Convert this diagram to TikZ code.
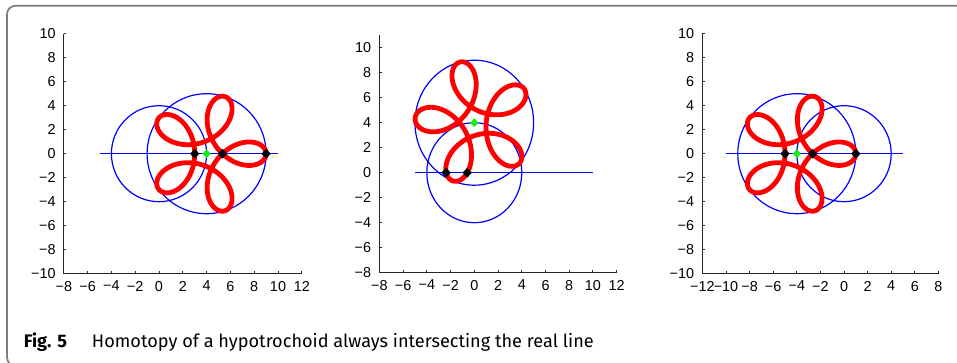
\documentclass[tikz,border=0pt]{standalone}
\usepackage{fontspec}
\setmainfont{Liberation Sans}
\newfontfamily\capfont{Fira Sans}
\usepackage{tikz}
\usetikzlibrary{shapes.geometric}

\definecolor{framegray}{RGB}{125,125,125}
\definecolor{limec}{RGB}{20,235,20}

% label with a true minus sign
\newcommand{\ticknum}[1]{\ifnum#1<0 −\number-#1\else#1\fi}
% hypotrochoid 3e^{it}+2e^{-4it}, centred at (#1,#2), turned by #3
\newcommand{\trochoid}[3]{%
  \draw[hypo] plot[domain=0:360, samples=361, variable=\t]
    ({#1+3*cos(\t+#3)+2*cos(#3-4*\t)}, {#2+3*sin(\t+#3)+2*sin(#3-4*\t)}) -- cycle;}

\begin{document}
\begin{tikzpicture}[
  x=0.75pt, y=-0.75pt,
  frame/.style={draw=framegray, line width=1.3pt, rounded corners=6.5pt},
  axis/.style={draw=black!85, line width=0.75pt},
  ring/.style={draw=blue, line width=0.9pt},
  hypo/.style={draw=red, line width=3.6pt, line join=round},
  root/.style={diamond, fill=black, inner sep=0pt, minimum width=7.2pt, minimum height=7.6pt},
  centre/.style={diamond, fill=limec, inner sep=0pt, minimum width=6.2pt, minimum height=6.8pt},
  ylab/.style={anchor=east, inner sep=0pt, xshift=-6pt, font=\fontsize{10.8}{12}\selectfont},
  xlab/.style={anchor=north, inner sep=0pt, yshift=-5.3pt, font=\fontsize{10.8}{12}\selectfont}
]
\useasboundingbox (0,0) rectangle (957,363);

\draw[frame] (962,5.7) -- (7,5.7) -- (7,366) -- (40,366);

% first homotopy step
\begin{scope}[shift={(159,153.7)}, x=8.925pt, y=9pt]
  \draw[axis] (-8,10) -- (-8,-10) -- (12,-10);
  \foreach \v [count=\i] in {-10,-8,...,10} {
    \draw[axis] (-8,\v) -- ++(0.2,0);
    \node[ylab] (ya\i) at (-8,\v) {\ticknum{\v}};
  }
  \foreach \v [count=\i] in {-8,-6,...,12} {
    \draw[axis] (\v,-10) -- ++(0,0.2);
    \node[xlab] (xa\i) at (\v,-10) {\ticknum{\v}};
  }
  \draw[ring] (0,0) circle [radius=4];
  \draw[ring] (4,0) circle [radius=5];
  \draw[ring] (-5,0) -- (10,0);
  \trochoid{4}{0}{0}
  \node[root] (ra1) at (3,0) {};
  \node[root] (ra2) at (5.33,0) {};
  \node[root] (ra3) at (9,0) {};
  \node[centre] (ca) at (4,0) {};
\end{scope}

% second homotopy step
\begin{scope}[shift={(474.3,172.7)}, x=8.9pt, y=9.375pt]
  \draw[axis] (-8,11) -- (-8,-8) -- (12,-8);
  \foreach \v [count=\i] in {-8,-6,...,10} {
    \draw[axis] (-8,\v) -- ++(0.2,0);
    \node[ylab] (yb\i) at (-8,\v) {\ticknum{\v}};
  }
  \foreach \v [count=\i] in {-8,-6,...,12} {
    \draw[axis] (\v,-8) -- ++(0,0.2);
    \node[xlab] (xb\i) at (\v,-8) {\ticknum{\v}};
  }
  \draw[ring] (0,0) circle [radius=4];
  \draw[ring] (0,4) circle [radius=5];
  \draw[ring] (-5,0) -- (10,0);
  \trochoid{0}{4}{32}
  \node[root] (rb1) at (-2.38,0) {};
  \node[root] (rb2) at (-0.6,0) {};
  \node[centre] (cb) at (0,4) {};
\end{scope}

% third homotopy step
\begin{scope}[shift={(844,153.7)}, x=8.85pt, y=9pt]
  \draw[axis] (-12,10) -- (-12,-10) -- (8,-10);
  \foreach \v [count=\i] in {-10,-8,...,10} {
    \draw[axis] (-12,\v) -- ++(0.2,0);
    \node[ylab] (yc\i) at (-12,\v) {\ticknum{\v}};
  }
  \foreach \v [count=\i] in {-12,-10,...,8} {
    \draw[axis] (\v,-10) -- ++(0,0.2);
    \node[xlab] (xc\i) at (\v,-10) {\ticknum{\v}};
  }
  \draw[ring] (0,0) circle [radius=4];
  \draw[ring] (-4,0) circle [radius=5];
  \draw[ring] (-10,0) -- (5,0);
  \trochoid{-4}{0}{0}
  \node[root] (rc1) at (-5,0) {};
  \node[root] (rc2) at (-2.67,0) {};
  \node[root] (rc3) at (1,0) {};
  \node[centre] (cc) at (-4,0) {};
\end{scope}

\node[anchor=base west, inner sep=0pt, font=\capfont\fontsize{13.6}{15}\selectfont\bfseries]
  (figno) at (23.5,347.7) {Fig. 5};
\node[anchor=base west, inner sep=0pt, font=\capfont\fontsize{13.6}{15}\selectfont]
  (figcap) at (91.7,347.7) {Homotopy of a hypotrochoid always intersecting the real line};
\end{tikzpicture}
\end{document}
